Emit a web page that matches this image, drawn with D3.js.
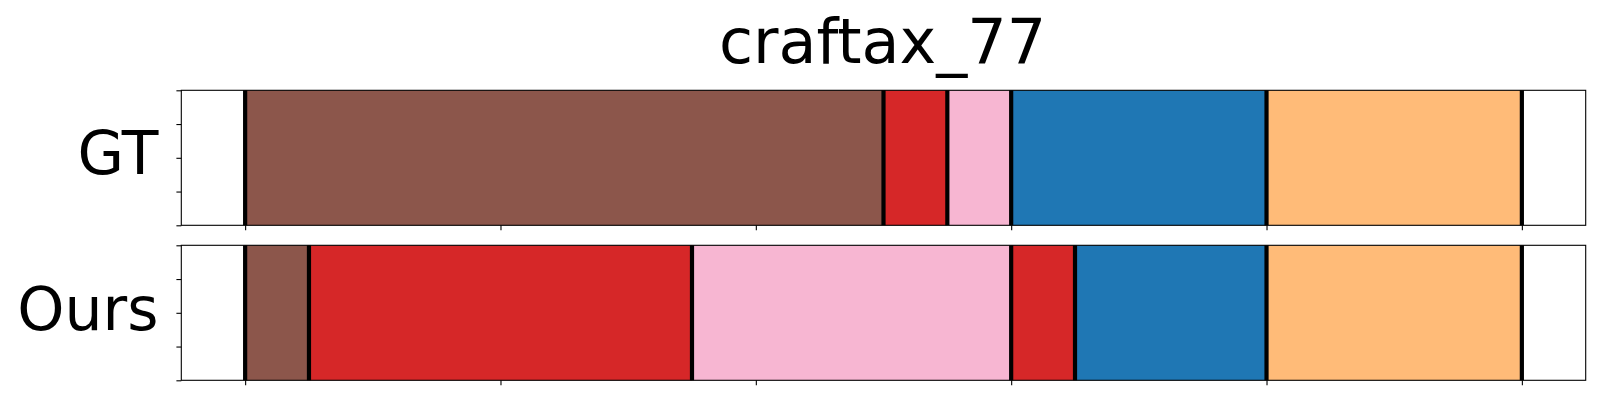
<!DOCTYPE html>
<html><head><meta charset="utf-8">
<script src="https://cdn.jsdelivr.net/npm/d3@7"></script>
<style>body{margin:0;background:#fff}svg{display:block}text{font-family:"DejaVu Sans",sans-serif}</style>
</head><body><svg id="c" width="1600" height="400"></svg>
<script>
const title = "craftax_77";
const rows = ["GT", "Ours"];
const gtStarts = [0, 50, 55, 60, 80];
const gtEnds = [50, 55, 60, 80, 100];
const gtLabels = ["brown", "red", "pink", "blue", "orange"];
const oursStarts = [0, 5, 35, 60, 65, 80];
const oursEnds = [5, 35, 60, 65, 80, 100];
const oursLabels = ["brown", "red", "pink", "red", "blue", "orange"];
const boundariesGT = [0, 50, 55, 60, 80, 100];
const boundariesOurs = [0, 5, 35, 60, 65, 80, 100];
const xTicks = [0, 20, 40, 60, 80, 100];
const yTicks = [0, 0.25, 0.5, 0.75, 1];
const colorMap = {brown:"#8c564b", red:"#d62728", pink:"#f7b6d2", blue:"#1f77b4", orange:"#ffbb78"};

const svg = d3.select("#c");
const left = 181.3, right = 1585.7;
const x = d3.scaleLinear().domain([-5, 105]).range([left, right]);
const panels = [
  {name: rows[0], top: 90.3, bottom: 225.3, starts: gtStarts, ends: gtEnds, labels: gtLabels, bounds: boundariesGT, baseline: 174},
  {name: rows[1], top: 245.3, bottom: 380.3, starts: oursStarts, ends: oursEnds, labels: oursLabels, bounds: boundariesOurs, baseline: 330}
];
panels.forEach(p => {
  const y = d3.scaleLinear().domain([0, 1]).range([p.bottom, p.top]);
  const g = svg.append("g");
  const segs = p.starts.map((s, i) => ({s, e: p.ends[i], c: colorMap[p.labels[i]]}));
  g.selectAll("rect.seg").data(segs).join("rect").attr("class","seg")
    .attr("x", d => x(d.s)).attr("width", d => x(d.e) - x(d.s))
    .attr("y", y(1)).attr("height", y(0) - y(1))
    .attr("fill", d => d.c);
  g.selectAll("line.b").data(p.bounds).join("line").attr("class","b")
    .attr("x1", d => x(d)).attr("x2", d => x(d))
    .attr("y1", y(0)).attr("y2", y(1))
    .attr("stroke", "#000").attr("stroke-width", 4.2);
  const xa = g.append("g").attr("transform", `translate(0,${p.bottom})`)
    .call(d3.axisBottom(x).tickValues(xTicks).tickFormat("").tickSize(4.9).tickSizeOuter(0));
  xa.select(".domain").remove();
  xa.selectAll("line").attr("stroke-width", 1.1);
  const ya = g.append("g").attr("transform", `translate(${left},0)`)
    .call(d3.axisLeft(y).tickValues(yTicks).tickFormat("").tickSize(4.9).tickSizeOuter(0));
  ya.select(".domain").remove();
  ya.selectAll("line").attr("stroke-width", 1.1);
  g.append("rect").attr("x", left).attr("y", p.top).attr("width", right - left).attr("height", p.bottom - p.top)
    .attr("fill", "none").attr("stroke", "#000").attr("stroke-width", 1.1);
  g.append("text").attr("x", 158.5).attr("y", p.baseline).attr("text-anchor", "end")
    .attr("font-size", 60).attr("fill", "#000").text(p.name);
});
svg.append("text").attr("x", 882.5).attr("y", 63.3).attr("text-anchor", "middle")
  .attr("font-size", 62).attr("fill", "#000").text(title);
</script></body></html>
